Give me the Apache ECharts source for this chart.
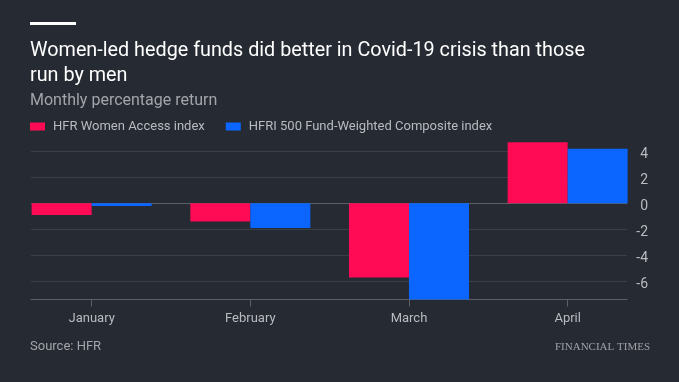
<!DOCTYPE html>
<html><head><meta charset="utf-8">
<script src="https://cdn.jsdelivr.net/npm/echarts@6/dist/echarts.min.js"></script>
<style>html,body{margin:0;padding:0;background:#262a33;}#c{width:679px;height:382px;}</style>
</head><body><div id="c"></div>
<script>
const categories = ['January', 'February', 'March', 'April'];
const womenAccess = [-0.9, -1.4, -5.7, 4.7];
const hfri500 = [-0.2, -1.9, -7.4, 4.2];
const yTicks = [-6, -4, -2, 0, 2, 4];
const seriesNames = ['HFR Women Access index', 'HFRI 500 Fund-Weighted Composite index'];

const FONT = 'Roboto, "Noto Sans", sans-serif';
const chart = echarts.init(document.getElementById('c'), null, {renderer: 'canvas'});
const gridColor = '#3b3f48';
const zeroColor = '#5b5f67';
chart.setOption({
  backgroundColor: '#262a33',
  animation: false,
  textStyle: {fontFamily: FONT},
  legend: {
    left: 30, top: 120, padding: 0, itemWidth: 15, itemHeight: 8, itemGap: 21, icon: 'rect',
    textStyle: {color: '#b9bbbf', fontSize: 13, fontFamily: FONT, padding: [0, 0, 0, 3]},
    data: seriesNames
  },
  grid: [
    {left: 12.3, right: 32, top: 138.3, bottom: 82.5},
    {left: 31, right: 52, top: 151.3, bottom: 101},
    {left: 31, right: 52, top: 138.3, bottom: 82.5}
  ],
  xAxis: [
    {type: 'category', gridIndex: 0, data: categories,
     axisLine: {show: false, onZero: false},
     axisTick: {show: true, alignWithLabel: true, length: 7, lineStyle: {color: '#5b5f67'}},
     axisLabel: {color: '#b9bbbf', fontSize: 13, margin: 13, fontFamily: FONT}},
    {type: 'value', gridIndex: 1, min: 0, max: 1, show: false},
    {type: 'value', gridIndex: 2, min: 0, max: 1, splitLine: {show: false},
     axisLine: {show: true, onZero: false, lineStyle: {color: '#5b5f67', width: 1}},
     axisTick: {show: false}, axisLabel: {show: false}}
  ],
  yAxis: [
    {type: 'value', gridIndex: 0, min: -7.4, max: 5, show: false},
    {type: 'value', gridIndex: 1, position: 'right', min: yTicks[0], max: yTicks[yTicks.length - 1], interval: 2,
     axisLine: {show: false}, axisTick: {show: false},
     axisLabel: {color: '#b9bbbf', fontSize: 14, align: 'right', margin: 21, verticalAlign: 'top', lineHeight: 7, fontFamily: FONT},
     splitLine: {show: true, lineStyle: {color: yTicks.map(v => v === 0 ? zeroColor : gridColor), width: 1}}},
    {type: 'value', gridIndex: 2, min: 0, max: 1, show: false}
  ],
  series: [
    {name: seriesNames[0], type: 'bar', xAxisIndex: 0, yAxisIndex: 0, data: womenAccess,
     barWidth: 60, barGap: '0%', itemStyle: {color: '#ff0a55'}},
    {name: seriesNames[1], type: 'bar', xAxisIndex: 0, yAxisIndex: 0, data: hfri500,
     barWidth: 60, barGap: '0%', itemStyle: {color: '#0a66ff'}}
  ],
  graphic: [
    {type: 'rect', shape: {x: 30, y: 22, width: 46, height: 3}, style: {fill: '#ffffff'}},
    {type: 'text', left: 30, top: 39, style: {text: 'Women-led hedge funds did better in Covid-19 crisis than those\nrun by men', fill: '#ffffff', fontSize: 19.8, lineHeight: 25, fontFamily: FONT}},
    {type: 'text', left: 30, top: 93, style: {text: 'Monthly percentage return', fill: '#a3a5aa', fontSize: 16, fontFamily: FONT}},
    {type: 'text', left: 30, top: 340, style: {text: 'Source: HFR', fill: '#a3a5aa', fontSize: 13, fontFamily: FONT}},
    {type: 'text', right: 29, top: 342, style: {text: 'FINANCIAL TIMES', fill: '#a0a2a7', fontSize: 11, fontFamily: '"Liberation Serif", "DejaVu Serif", serif'}}
  ]
});
</script></body></html>
